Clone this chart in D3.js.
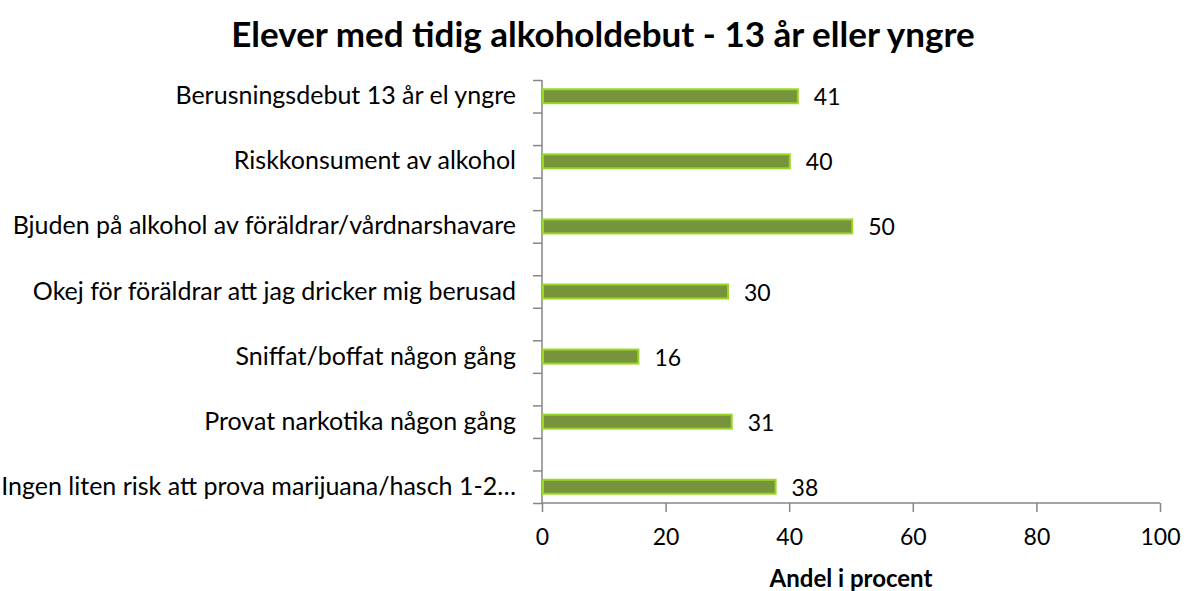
<!doctype html>
<html lang="sv">

<head>
    <title>Elever med tidig alkoholdebut</title>
    <meta charset="utf-8">
    <script src="https://cdnjs.cloudflare.com/ajax/libs/d3/7.8.5/d3.min.js"></script>
    <style>
        body { margin: 0; background: #fff; }
        text { font-family: Lato, "Open Sans", sans-serif; fill: #000; }
    </style>
</head>

<body>
    <div id="chart"></div>

    <script>
        // data
        const categories = [
            "Berusningsdebut 13 år el yngre",
            "Riskkonsument av alkohol",
            "Bjuden på alkohol av föräldrar/vårdnarshavare",
            "Okej för föräldrar att jag dricker mig berusad",
            "Sniffat/boffat någon gång",
            "Provat narkotika någon gång",
            "Ingen liten risk att prova marijuana/hasch 1-2…"
        ];
        const values = [41.4, 40.1, 50.2, 30.1, 15.6, 30.7, 37.8];
        const xTicks = [0, 20, 40, 60, 80, 100];
        const title = "Elever med tidig alkoholdebut - 13 år eller yngre";
        const xTitle = "Andel i procent";

        const width = 1194;
        const height = 591;
        const margin = { top: 80, left: 542, right: 34, bottom: 88 };
        const nSlots = categories.length * 2 - 1; // empty row between each category

        const svg = d3.select("#chart").append("svg")
            .attr("width", width).attr("height", height);

        const x = d3.scaleLinear().domain([0, 100])
            .range([margin.left, width - margin.right]);
        // slot scale: one category every second slot
        const slot = d3.scaleLinear().domain([0, nSlots])
            .range([margin.top, height - margin.bottom]);
        const slotH = slot(1) - slot(0);
        const barH = 14;

        const axisColor = "#868686";

        // y axis (ticks at every slot edge)
        const yAxis = svg.append("g")
            .attr("transform", `translate(${margin.left},0)`)
            .call(d3.axisLeft(slot).tickValues(d3.range(nSlots + 1)).tickSize(9).tickFormat(""));
        yAxis.select(".domain").attr("stroke", axisColor).attr("stroke-width", 1.5).attr("d", `M0,${slot(0)}V${slot(nSlots)}`);
        yAxis.selectAll(".tick line").attr("stroke", axisColor).attr("stroke-width", 1.5);

        // x axis
        const xAxis = svg.append("g")
            .attr("transform", `translate(0,${slot(nSlots)})`)
            .call(d3.axisBottom(x).tickValues(xTicks).tickSize(9).tickPadding(17));
        xAxis.select(".domain").attr("stroke", axisColor).attr("stroke-width", 1.5).attr("d", `M${x(0)},0H${x(100)}`);
        xAxis.selectAll(".tick line").attr("stroke", axisColor).attr("stroke-width", 1.5);
        xAxis.selectAll(".tick text").attr("font-size", 23).attr("font-family", "Lato, sans-serif").attr("fill", "#000");

        const rows = categories.map((c, i) => ({ name: c, value: values[i], cy: slot(i * 2) + slotH / 2 }));

        // bars
        svg.selectAll("rect.bar")
            .data(rows)
            .join("rect")
            .attr("class", "bar")
            .attr("x", x(0) + 1)
            .attr("y", d => d.cy - barH / 2)
            .attr("width", d => x(d.value) - x(0) - 1)
            .attr("height", barH)
            .attr("fill", "#77933C")
            .attr("stroke", "#99D822")
            .attr("stroke-width", 2);

        // value labels
        svg.selectAll("text.val")
            .data(rows)
            .join("text")
            .attr("class", "val")
            .attr("x", d => x(d.value) + 16)
            .attr("y", d => d.cy + 9)
            .attr("font-size", 23)
            .text(d => d3.format(".0f")(d.value));

        // category labels
        svg.selectAll("text.cat")
            .data(rows)
            .join("text")
            .attr("class", "cat")
            .attr("x", margin.left - 26)
            .attr("y", d => d.cy + 8)
            .attr("text-anchor", "end")
            .attr("font-size", 25)
            .text(d => d.name);

        svg.append("text")
            .attr("x", 603).attr("y", 47)
            .attr("text-anchor", "middle")
            .attr("font-size", 35).attr("font-weight", "bold")
            .text(title);

        svg.append("text")
            .attr("x", (x(0) + x(100)) / 2).attr("y", 587)
            .attr("text-anchor", "middle")
            .attr("font-size", 24).attr("font-weight", "bold")
            .text(xTitle);
    </script>
</body>

</html>
